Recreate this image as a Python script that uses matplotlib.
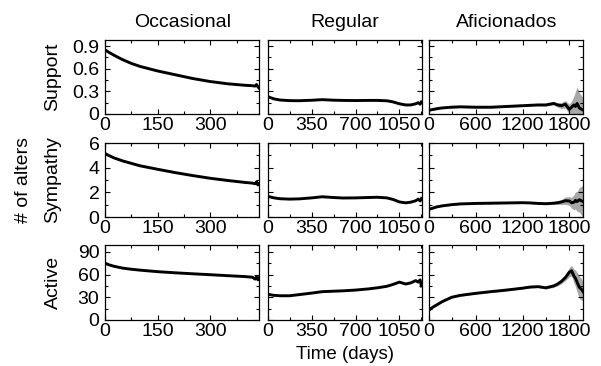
import matplotlib
matplotlib.use("Agg")
import matplotlib.pyplot as plt
import numpy as np
from matplotlib.ticker import MultipleLocator, FuncFormatter

plt.rcParams['font.family'] = ['Liberation Sans', 'DejaVu Sans']

# ---------------- data ----------------
groups = ["Occasional", "Regular", "Aficionados"]
rows = ["Support", "Sympathy", "Active"]

occ_days = [0, 10, 25, 50, 75, 100, 150, 200, 250, 300, 350, 400, 420, 428, 432, 436, 440]
occ_support = [0.85, 0.82, 0.78, 0.72, 0.67, 0.63, 0.57, 0.52, 0.47, 0.43, 0.40, 0.38, 0.375, 0.37, 0.39, 0.36, 0.34]
occ_sympathy = [5.15, 5.0, 4.8, 4.55, 4.35, 4.15, 3.87, 3.6, 3.36, 3.14, 2.96, 2.8, 2.75, 2.7, 2.85, 2.6, 2.7]
occ_active = [75, 73, 71, 68.5, 67, 65.8, 63.8, 62.3, 61, 59.8, 58.5, 57.3, 56.5, 54, 57, 53, 56]

reg_days = [0, 50, 100, 175, 250, 350, 435, 525, 600, 700, 800, 875, 950, 1000, 1050, 1100, 1140, 1180, 1200, 1215, 1225]
reg_support = [0.23, 0.2, 0.185, 0.177, 0.176, 0.182, 0.19, 0.183, 0.18, 0.178, 0.18, 0.18, 0.175, 0.16, 0.135, 0.12, 0.12, 0.135, 0.15, 0.13, 0.16]
reg_sympathy = [1.68, 1.55, 1.48, 1.45, 1.47, 1.55, 1.64, 1.58, 1.54, 1.55, 1.58, 1.6, 1.55, 1.42, 1.22, 1.15, 1.2, 1.32, 1.45, 1.3, 1.5]
reg_active = [34, 32.5, 32, 32, 33.5, 35.5, 37.4, 38, 38.5, 39.5, 41, 42.5, 44.5, 47, 50, 47.5, 49, 52, 50, 53, 45]

afi_days = [0, 50, 100, 165, 290, 400, 600, 800, 900, 1000, 1200, 1300, 1400, 1500, 1600, 1650, 1700, 1750, 1800, 1830, 1860, 1880, 1900, 1930, 1960, 1980]
afi_support = [0.05, 0.06, 0.07, 0.08, 0.09, 0.095, 0.09, 0.09, 0.095, 0.1, 0.11, 0.115, 0.12, 0.12, 0.14, 0.12, 0.11, 0.13, 0.06, 0.09, 0.12, 0.1, 0.14, 0.08, 0.06, 0.05]
afi_support_ci = [0.01, 0.01, 0.01, 0.01, 0.01, 0.01, 0.01, 0.01, 0.01, 0.01, 0.01, 0.01, 0.012, 0.015, 0.02, 0.03, 0.04, 0.05, 0.07, 0.08, 0.12, 0.2, 0.22, 0.2, 0.18, 0.15]
afi_sympathy = [0.62, 0.72, 0.82, 0.9, 1.0, 1.06, 1.1, 1.12, 1.13, 1.14, 1.16, 1.14, 1.1, 1.08, 1.12, 1.16, 1.22, 1.32, 1.3, 1.15, 1.2, 1.35, 1.25, 1.4, 1.3, 1.25]
afi_sympathy_ci = [0.05, 0.05, 0.05, 0.05, 0.05, 0.05, 0.05, 0.05, 0.05, 0.05, 0.05, 0.05, 0.06, 0.08, 0.1, 0.15, 0.2, 0.3, 0.35, 0.45, 0.6, 0.7, 0.8, 1.0, 1.2, 1.4]
afi_active = [13, 17, 20, 24, 30, 32.5, 35.2, 37.5, 38.5, 39.6, 42, 43.5, 44, 42.5, 45, 47.5, 51, 56, 63, 65, 58, 55, 50, 43, 40, 37]
afi_active_ci = [1, 1, 1, 1, 1, 1, 1, 1, 1, 1, 1, 1, 1, 1.5, 2, 2.5, 3, 4, 6, 7, 9, 11, 13, 15, 14, 12]

series = {
    "Occasional": (occ_days, [occ_support, occ_sympathy, occ_active], None),
    "Regular": (reg_days, [reg_support, reg_sympathy, reg_active], None),
    "Aficionados": (afi_days, [afi_support, afi_sympathy, afi_active],
                    [afi_support_ci, afi_sympathy_ci, afi_active_ci]),
}

xlims = {"Occasional": 440, "Regular": 1230, "Aficionados": 1980}
xmajor = {"Occasional": 150, "Regular": 350, "Aficionados": 600}
ylims = [0.98, 6.0, 99]
ymajor = [0.3, 2, 30]

# ---------------- figure ----------------
W, H = 601, 366
fig = plt.figure(figsize=(W / 100, H / 100), dpi=100)

col_x = [105, 267.7, 429]
col_w = 154.3
row_y = [(40, 114), (143, 217), (245, 320)]

fs = 14

def fmt(v, pos):
    return "%g" % round(v, 6)

for ci, g in enumerate(groups):
    days, vals, cis = series[g]
    for ri in range(3):
        top, bot = row_y[ri]
        ax = fig.add_axes([col_x[ci] / W, 1 - bot / H, col_w / W, (bot - top) / H])
        d = np.array(days, dtype=float)
        v = np.array(vals[ri], dtype=float)
        if cis is not None:
            e = np.array(cis[ri], dtype=float)
            ax.fill_between(d, np.clip(v - e, 0, None), v + e, color="#a8a8a8", lw=0)
        ax.plot(d, v, color="black", lw=2.1, solid_joinstyle="round")
        ax.set_xlim(0, xlims[g])
        ax.set_ylim(0, ylims[ri])
        ax.xaxis.set_major_locator(MultipleLocator(xmajor[g]))
        ax.xaxis.set_minor_locator(MultipleLocator(xmajor[g] / 2))
        ax.yaxis.set_major_locator(MultipleLocator(ymajor[ri]))
        ax.yaxis.set_minor_locator(MultipleLocator(ymajor[ri] / 2))
        ax.yaxis.set_major_formatter(FuncFormatter(fmt))
        ax.tick_params(which="both", direction="in", top=True, right=True,
                       labelsize=fs, width=0.8, color="black")
        ax.tick_params(axis="x", which="major", pad=2)
        ax.tick_params(axis="y", which="major", pad=4)
        ax.tick_params(which="major", length=3.6)
        ax.tick_params(which="minor", length=2)
        if ci != 0:
            ax.set_yticklabels([])
        for s in ax.spines.values():
            s.set_linewidth(0.9)
        if ri == 0:
            fig.text((col_x[ci] + col_w / 2) / W, 1 - 27.3 / H, g, fontsize=fs,
                     ha="center", va="baseline")
        if ci == 0:
            fig.text(53 / W, 1 - (top + bot) / 2 / H, rows[ri], rotation=90,
                     fontsize=fs, ha="center", va="center")

fig.text(24 / W, 1 - 180 / H, "# of alters", rotation=90, fontsize=fs,
         ha="center", va="center")
fig.text(344.7 / W, 1 - 359 / H, "Time (days)", fontsize=13.5, ha="center", va="baseline")

fig.savefig("out.png", dpi=100)
